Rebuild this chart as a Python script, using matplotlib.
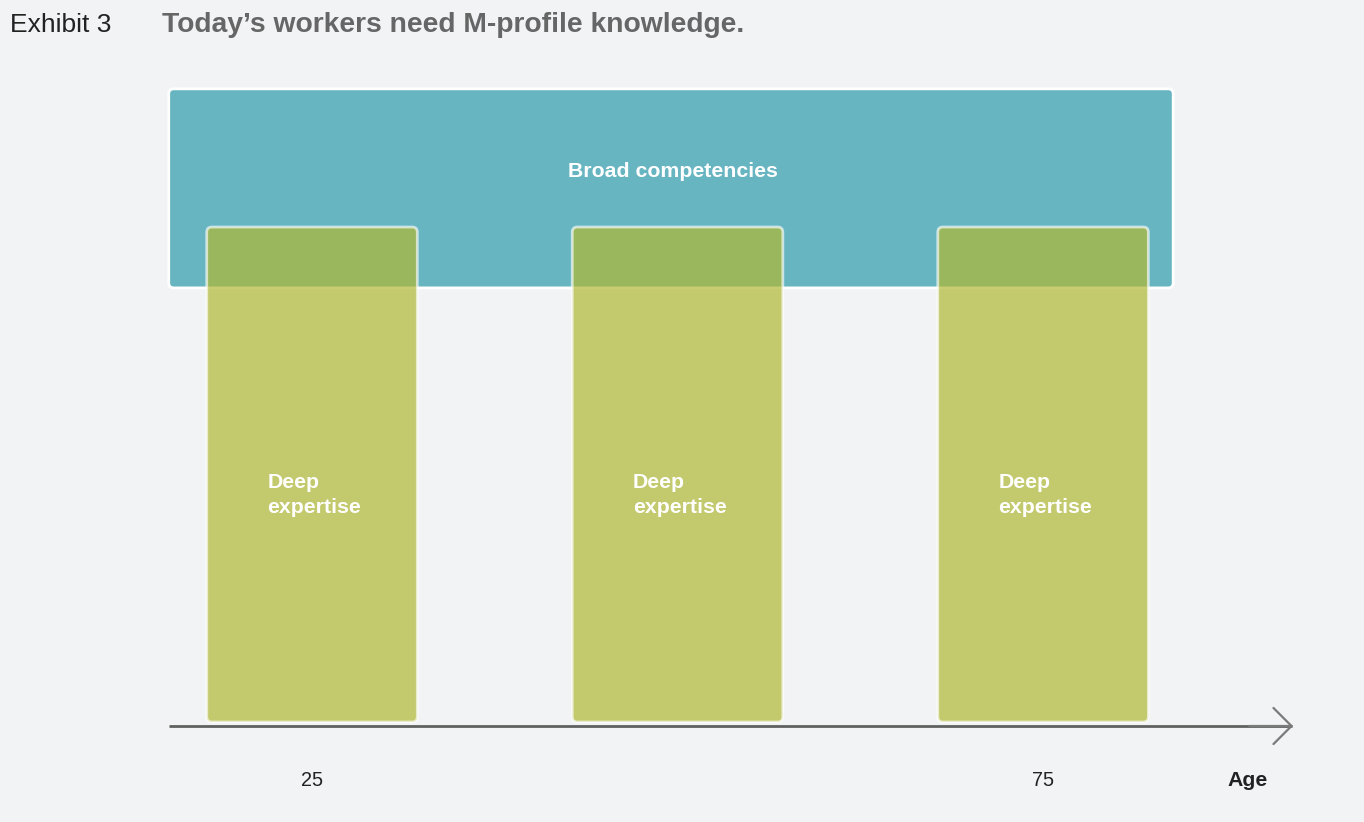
import matplotlib
matplotlib.use("Agg")
import matplotlib.pyplot as plt
from matplotlib.patches import FancyBboxPatch

plt.rcParams['font.family'] = ['Liberation Sans', 'DejaVu Sans']

## Data
exhibit = "Exhibit 3"
title = "Today\u2019s workers need M-profile knowledge."
bar_ages = [25, 50, 75]            # centre age of each deep-expertise bar
bar_label = "Deep\nexpertise"
bar_width = 14.4                   # years
bar_base = 0.8
bar_top = 100.0
broad_start, broad_end = 15.2, 83.9   # ages covered by broad competencies
broad_bottom, broad_top = 87.8, 127.7
broad_label = "Broad competencies"
tick_ages = [25, 75]
axis_start, axis_end = 15.2, 92.1
axis_label = "Age"

bg = "#f2f3f5"
teal = "#68b5c2"
green = (0.69, 0.72, 0.20, 0.70)

fig = plt.figure(figsize=(13.64, 8.22), dpi=100, facecolor=bg)
ax = fig.add_axes([0, 0, 1, 1])
ax.set_facecolor(bg)
ax.set_xlim(3.66, 96.95)
ax.set_ylim(-19.24, 145.5)
ax.axis('off')

# rounded corners need aspect correction (y units per x unit in pixels)
aspect = (1 / 4.99) / (1 / 14.62)

teal_box = FancyBboxPatch((broad_start, broad_bottom), broad_end - broad_start,
                          broad_top - broad_bottom,
                          boxstyle="round,pad=0,rounding_size=0.35",
                          mutation_aspect=aspect,
                          facecolor=teal, edgecolor="white", lw=2, zorder=1)
ax.add_patch(teal_box)
ax.text(49.7, 111.2, broad_label, color="white",
        fontsize=15.3, fontweight="bold", ha="center", va="center", zorder=5)

for age in bar_ages:
    bar = FancyBboxPatch((age - bar_width / 2, bar_base), bar_width,
                         bar_top - bar_base,
                         boxstyle="round,pad=0,rounding_size=0.35",
                         mutation_aspect=aspect,
                         facecolor=green, edgecolor=(1, 1, 1, 0.65), lw=2,
                         zorder=2)
    ax.add_patch(bar)
    ax.text(age - 3.05, 46.2, bar_label, color="white", fontsize=15.3,
            fontweight="bold", ha="left", va="center", linespacing=1.4,
            zorder=5)

# age axis with open arrow head
ax.plot([axis_start, axis_end - 0.1], [0, 0], color="#606060", lw=2,
        solid_capstyle="butt", zorder=3)
ax.annotate("", xy=(axis_end, 0), xytext=(axis_end - 3, 0),
            arrowprops=dict(arrowstyle="->,head_length=1.3,head_width=1.3",
                            color="#7a7a7a", lw=1.6, shrinkA=0, shrinkB=0),
            zorder=3)

for age in tick_ages:
    ax.text(age, -11.0, str(age), color="#222222", fontsize=14.3,
            ha="center", va="center")
ax.text(89.0, -11.0, axis_label, color="#222222", fontsize=15.3,
        fontweight="bold", ha="center", va="center")

fig.text(10 / 1364, 1 - 25 / 822, exhibit, color="#222222", fontsize=19,
         ha="left", va="center")
fig.text(162 / 1364, 1 - 25 / 822, title, color="#666666", fontsize=20.3,
         fontweight="bold", ha="left", va="center")

fig.savefig("out.png", dpi=100, facecolor=bg)
